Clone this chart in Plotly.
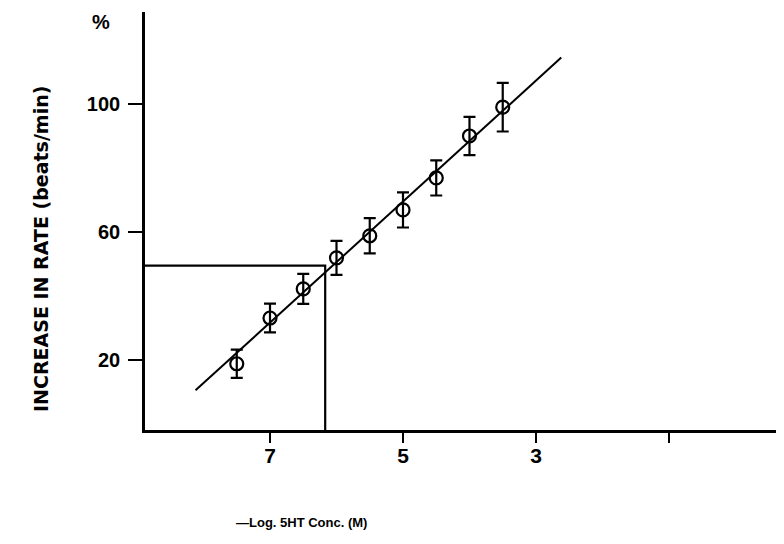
import plotly.graph_objects as go

# Data
log_conc = [7.5, 7.0, 6.5, 6.0, 5.5, 5.0, 4.5, 4.0, 3.5]
rate_increase = [18.8, 33.1, 42.2, 51.9, 58.8, 66.9, 76.9, 90.0, 99.0]
rate_err = [4.4, 4.5, 4.7, 5.3, 5.5, 5.5, 5.5, 6.0, 7.6]

fit_x = [8.12, 2.62]
fit_y = [10.5, 114.5]

ref_x = [8.88, 6.17, 6.17]
ref_y = [49.5, 49.5, -1.9]

x_tickvals = [7, 5, 3, 1]
x_ticktext = ["7", "5", "3", ""]
y_tickvals = [20, 60, 100]
y_ticktext = ["20", "60", "100"]

FONT = "Liberation Sans"
TITLE_FONT = "DejaVu Sans"

# page body offset (default 8px margin in the browser)
OFF = 8
W, H = 784 - OFF, 544 - OFF
# desired plot area in window pixels
win_left, win_right, win_top, win_bottom = 145, 784, 12, 430
l = win_left - OFF
t = win_top - OFF
r = W - (win_right - OFF)
b = H - (win_bottom - OFF)
pw, ph = W - l - r, H - t - b


def paper_xy(px, py):
    return (px - OFF - l) / pw, (H - b - (py - OFF)) / ph


fig = go.Figure()

fig.add_trace(go.Scatter(x=ref_x, y=ref_y, mode="lines",
                         line=dict(color="black", width=2.2),
                         hoverinfo="skip", showlegend=False))
fig.add_trace(go.Scatter(x=fit_x, y=fit_y, mode="lines",
                         line=dict(color="black", width=2),
                         hoverinfo="skip", showlegend=False))
fig.add_trace(go.Scatter(
    x=log_conc, y=rate_increase, mode="markers",
    marker=dict(symbol="circle-open", size=13, color="black",
                line=dict(width=2.2, color="black")),
    error_y=dict(type="data", array=rate_err, visible=True,
                 color="black", thickness=2.2, width=6),
    showlegend=False))

ax_pct = paper_xy(101, 22)
ax_yt = paper_xy(41, 249)
ax_xt = paper_xy(301, 522)

fig.update_layout(
    width=W, height=H,
    margin=dict(l=l, r=r, t=t, b=b),
    plot_bgcolor="white", paper_bgcolor="white",
    font=dict(family=FONT, color="black", size=16, weight="bold"),
    xaxis=dict(range=[8.88, -0.73], showgrid=False, zeroline=False,
               showline=True, linecolor="black", linewidth=2.6,
               ticks="outside", ticklen=10, tickwidth=2, tickcolor="black",
               tickvals=x_tickvals, ticktext=x_ticktext,
               ticklabelstandoff=-5,
               tickfont=dict(family=FONT, size=21, weight="bold")),
    yaxis=dict(range=[-1.9, 128.75], showgrid=False, zeroline=False,
               showline=True, linecolor="black", linewidth=2.6,
               ticks="outside", ticklen=14, tickwidth=2, tickcolor="black",
               tickvals=y_tickvals, ticktext=y_ticktext,
               ticklabelstandoff=4,
               tickfont=dict(family=FONT, size=20, weight="bold")),
    annotations=[
        dict(text="%", x=ax_pct[0], y=ax_pct[1], xref="paper", yref="paper",
             xanchor="center", yanchor="middle", showarrow=False,
             font=dict(family=FONT, size=20, weight="bold")),
        dict(text="INCREASE IN RATE (beats/min)", textangle=-90,
             x=ax_yt[0], y=ax_yt[1], xref="paper", yref="paper",
             xanchor="center", yanchor="middle", showarrow=False,
             font=dict(family=TITLE_FONT, size=19, weight="bold")),
        dict(text="—Log. 5HT Conc. (M)", x=ax_xt[0], y=ax_xt[1],
             xref="paper", yref="paper",
             xanchor="center", yanchor="middle", showarrow=False,
             font=dict(family=FONT, size=13, weight="bold")),
    ],
)

fig.write_html("out.html")
